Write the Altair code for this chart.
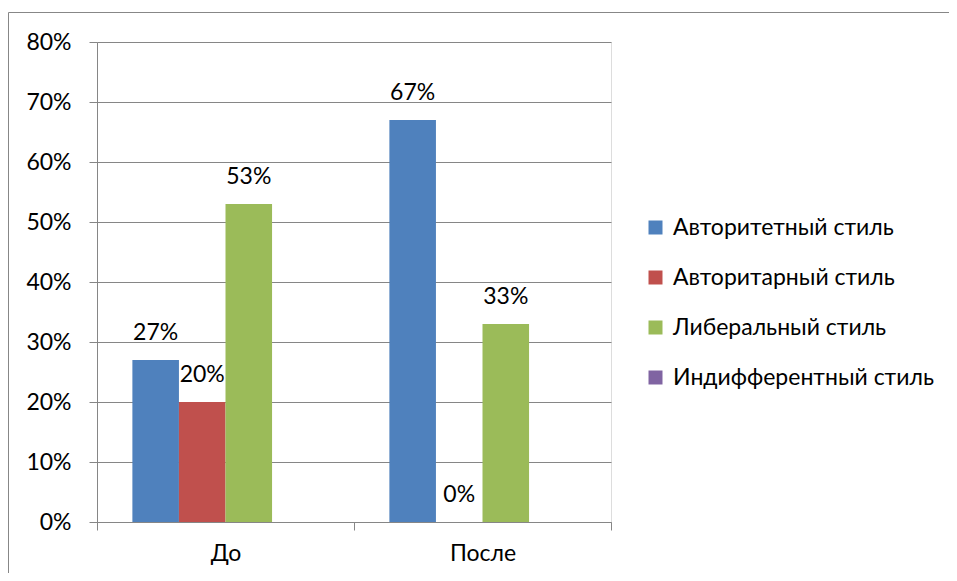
import altair as alt
import pandas as pd

categories = ["До", "После"]
series = ["Авторитетный стиль", "Авторитарный стиль", "Либеральный стиль", "Индифферентный стиль"]
colors = ["#4F81BD", "#C0504D", "#9BBB59", "#8064A2"]
avtoritetny = [0.27, 0.67]
avtoritarny = [0.20, 0.0]
liberalny = [0.53, 0.33]
indifferentny = [None, None]

rows = []
for s, vals in zip(series, [avtoritetny, avtoritarny, liberalny, indifferentny]):
    for c, v in zip(categories, vals):
        rows.append({"period": c, "series": s, "value": v})
df = pd.DataFrame(rows)

FONT = "Lato"
FS = 23
GRAY = "#868686"
W, H = 514, 480

x = alt.X("period:N", sort=categories,
          scale=alt.Scale(paddingInner=0, paddingOuter=0),
          axis=alt.Axis(title=None, labelAngle=0, tickBand="extent", tickSize=8,
                        labelPadding=12, labelFontSize=FS, labelColor="#000000",
                        domainColor=GRAY, tickColor=GRAY, labelFont=FONT))
xo = alt.XOffset("series:N", sort=series,
                 scale=alt.Scale(domain=series, paddingInner=0, paddingOuter=0.76))
y = alt.Y("value:Q", scale=alt.Scale(domain=[0, 0.8], nice=False),
          axis=alt.Axis(title=None, format=".0%", values=[0, 0.1, 0.2, 0.3, 0.4, 0.5, 0.6, 0.7, 0.8],
                        tickSize=8, labelPadding=18, labelFontSize=FS, labelColor="#000000",
                        domainColor=GRAY, tickColor=GRAY, gridColor=GRAY, grid=True,
                        labelFont=FONT))

bars = alt.Chart(df).mark_bar().encode(
    x=x, xOffset=xo, y=y,
    color=alt.Color("series:N", scale=alt.Scale(domain=series, range=colors),
                    legend=alt.Legend(title=None, orient="none", legendX=547, legendY=174,
                                      symbolType="square", symbolSize=196, symbolStrokeWidth=0,
                                      labelFontSize=FS, labelFont=FONT, labelColor="#000000",
                                      labelOffset=6, rowPadding=26, padding=0, labelLimit=400)),
)

labels = alt.Chart(df).transform_filter("datum.value != null").mark_text(
    dy=-20, baseline="alphabetic", fontSize=FS, font=FONT, color="#000000"
).encode(
    x=x, xOffset=xo, y=y,
    text=alt.Text("value:Q", format=".0%"),
)

frame = alt.Chart(pd.DataFrame({"a": [0]})).mark_rect(
    fill=None, stroke="#878787", strokeWidth=1
).encode(
    x=alt.value(-88.5), x2=alt.value(W + 400), y=alt.value(-29.5), y2=alt.value(H + 200)
)

chart = alt.layer(frame, bars, labels).properties(
    width=W, height=H,
    autosize=alt.AutoSizeParams(type="none"),
    padding={"left": 89, "top": 34, "right": 338, "bottom": 51},
).configure_view(stroke=None).configure(font=FONT)

chart.save("out.html", embed_options={"renderer": "svg", "actions": False})
